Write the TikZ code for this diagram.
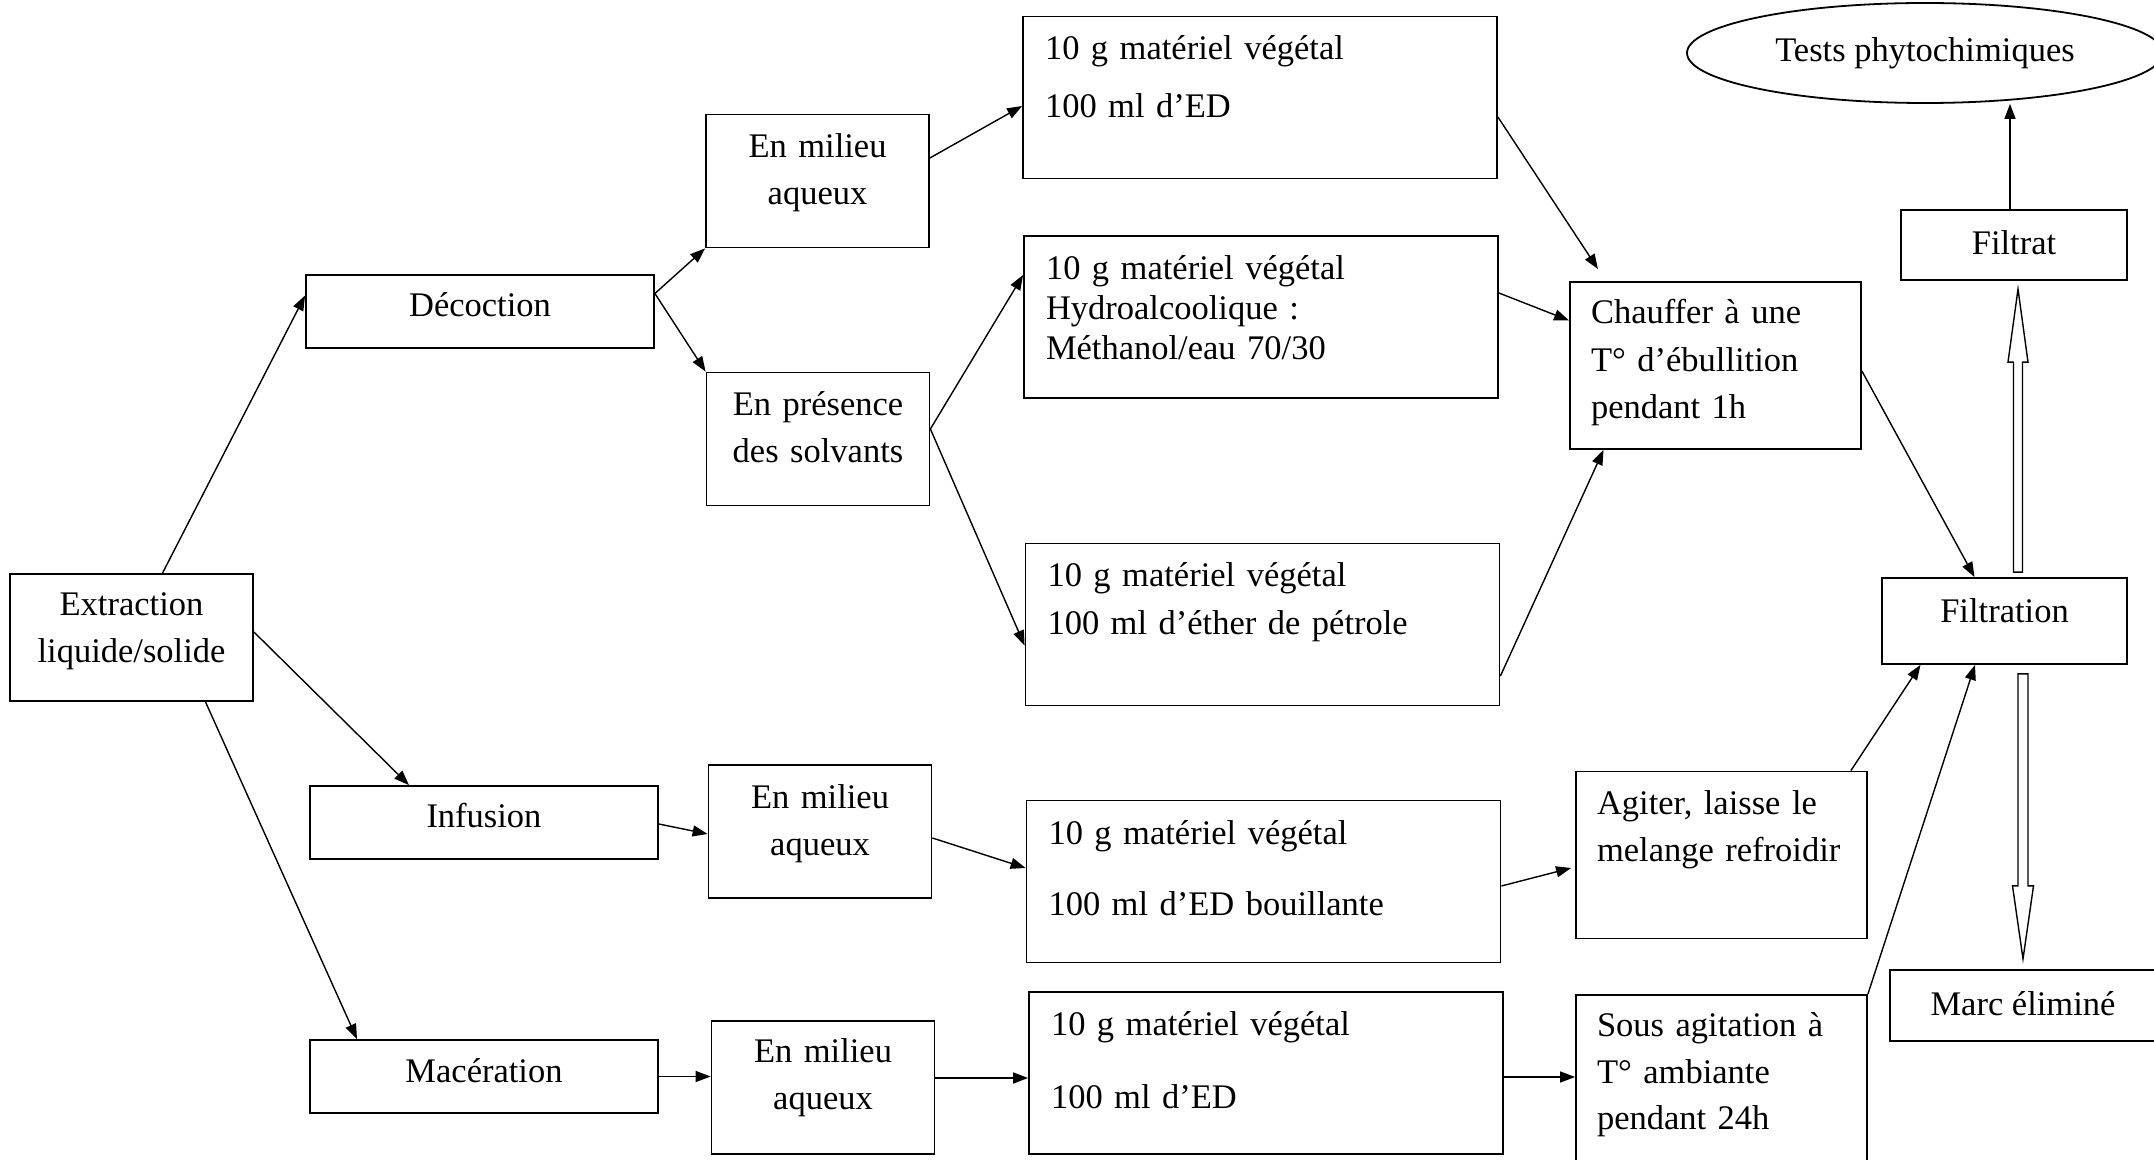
\documentclass[tikz,border=0pt]{standalone}
\usepackage{fontspec}
\setmainfont{Liberation Serif}
\usetikzlibrary{arrows.meta,shapes.geometric}
\begin{document}
\begin{tikzpicture}[x=0.5pt, y=-0.5pt, font=\fontsize{17.25}{23.3}\selectfont,
    box/.style={draw, line width=0.9pt, align=center, inner sep=0pt, text height=12pt, text depth=7pt},
    twobox/.style={box, text width=105pt, minimum width=111.5pt, minimum height=66.5pt, text depth=35pt},
    tenbox/.style={draw, line width=0.9pt, align=left, text width=215pt, inner xsep=11pt, inner ysep=0pt,
      minimum height=81pt, text height=12pt, text depth=49.5pt},
    sidebox/.style={draw, line width=0.9pt, align=left, text width=124.5pt, inner xsep=10.5pt, inner ysep=0pt,
      minimum height=83.5pt, text height=12pt},
    arr/.style={line width=0.7pt, -{Triangle[length=7.5pt,width=5.5pt]}},
    hollow/.style={line width=0.7pt}]
  \useasboundingbox (0,0) rectangle (2154,1160);
    \node [box, text width=110pt, minimum width=121.5pt, minimum height=63.5pt, text depth=33.5pt] (ext) at (131.5,637.5) {Extraction\\liquide/solide};
    \node [box, minimum width=174pt, minimum height=36.5pt] (dec) at (480,311.5) {Décoction};
    \node [box, minimum width=174pt, minimum height=36.5pt] (inf) at (484,822.5) {Infusion};
    \node [box, minimum width=174pt, minimum height=36.5pt, text depth=6pt] (mac) at (484,1076.5) {Macération};
  \node [twobox] (aq1) at (817.5,181) {En milieu\\aqueux};
  \node [twobox] (solv) at (818,439) {En présence\\des solvants};
  \node [twobox] (aq2) at (820,831.5) {En milieu\\aqueux};
  \node [twobox, text depth=37pt] (aq3) at (823,1087.5) {En milieu\\aqueux};
    \node [tenbox] (veg1) at (1260,97.5) {10 g matériel végétal\\[5.4pt]100 ml d’ED};
    \node [tenbox] (veg2) at (1261,317) {10 g matériel végétal\\[-3.3pt]Hydroalcoolique :\\[-3.3pt]Méthanol/eau 70/30};
    \node [tenbox] (veg3) at (1262.5,624.5) {10 g matériel végétal\\[0.7pt]100 ml d’éther de pétrole};
    \node [tenbox] (veg4) at (1263.5,881.5) {10 g matériel végétal\\[12.4pt]100 ml d’ED bouillante};
    \node [tenbox] (veg5) at (1266,1073) {10 g matériel végétal\\[13pt]100 ml d’ED};
  \node [sidebox, text depth=53.75pt] (heat) at (1715.5,365.5) {Chauffer à une\\[0.4pt]T° d’ébullition\\[0.4pt]pendant 1h};
  \node [sidebox, text depth=52.25pt] (stir) at (1721.5,855) {Agiter, laisse le\\melange refroidir};
  \node [sidebox, text depth=70.25pt, minimum height=100pt] (stir24) at (1721.5,1095) {Sous agitation à\\T° ambiante\\pendant 24h};
    \node [box, minimum width=122.5pt, minimum height=43pt, text depth=10pt] (filt) at (2004.5,621) {Filtration};
    \node [box, minimum width=113pt, minimum height=35pt, text depth=2pt] (filtrat) at (2014,245) {Filtrat};
    \node [box, minimum width=133pt, minimum height=35.5pt, text depth=2pt] (marc) at (2023,1005.5) {Marc éliminé};
    \node [draw, ellipse, line width=0.9pt, inner sep=0pt, minimum width=238pt, minimum height=50pt] (tests) at (1925,53) {Tests phytochimiques};
  \draw [arr] ([xshift=15.5pt]ext.north) -- ([yshift=8pt]dec.west);
  \draw [arr] ([yshift=2.75pt]ext.east) -- ([xshift=-37.5pt]inf.north);
  \draw [arr] ([xshift=37pt]ext.south) -- ([xshift=-63.5pt]mac.north);
  \draw [arr] ([yshift=9pt]dec.east) -- (aq1.south west);
  \draw [arr] ([yshift=9pt]dec.east) -- (solv.north west);
  \draw [arr] ([yshift=11.5pt]aq1.east) -- ([yshift=-4.25pt]veg1.west);
  \draw [arr] ([yshift=5pt]solv.east) -- ([yshift=21pt]veg2.west);
  \draw [arr] ([yshift=5pt]solv.east) -- ([yshift=-10.5pt]veg3.west);
  \draw [arr] ([yshift=-9.75pt]veg1.east) -- ([xshift=-58.75pt,yshift=6pt]heat.north);
  \draw [arr] ([yshift=12pt]veg2.east) -- ([yshift=22.5pt]heat.west);
  \draw [arr] ([yshift=-25.75pt]veg3.east) -- ([xshift=-56pt]heat.south);
  \draw [arr] ([yshift=-2.75pt]heat.east) -- ([xshift=-15pt]filt.north);
  \draw [arr] ([yshift=-0.75pt]inf.east) -- ([yshift=-1.25pt]aq2.west);
  \draw [arr] ([yshift=-3.25pt]aq2.east) -- ([yshift=6.75pt]veg4.west);
  \draw [arr] ([yshift=-2.25pt]veg4.east) -- ([xshift=-2pt,yshift=-6.5pt]stir.west);
  \draw [arr] ([xshift=-8.5pt]stir.north east) -- ([xshift=-42pt]filt.south);
  \draw [arr] (stir24.north east) -- ([xshift=-14.75pt]filt.south);
  \draw [arr] (mac.east) -- (mac.east -| aq3.west);
  \draw [arr] ([yshift=4.75pt]aq3.east) -- ([yshift=4.75pt]aq3.east -| veg5.west);
  \draw [arr] ([yshift=-2pt]veg5.east) -- ([yshift=-2pt]veg5.east -| stir24.west);
  \draw [arr] ([xshift=-2pt]filtrat.north) -- ([xshift=-2pt]filtrat.north |- tests.south);
    \draw [hollow] ([xshift=4.5pt,yshift=2.5pt]filt.north) -- ++(0,-210) -- ++(-5.5,0) -- ++(10,-73) -- ++(10,73) -- ++(-5.5,0) -- ++(0,210) -- cycle;
    \draw [hollow] ([xshift=6.75pt,yshift=-4.5pt]filt.south) -- ++(0,212) -- ++(-5.5,0) -- ++(10.5,73) -- ++(10.5,-73) -- ++(-5.5,0) -- ++(0,-212) -- cycle;
\end{tikzpicture}
\end{document}
